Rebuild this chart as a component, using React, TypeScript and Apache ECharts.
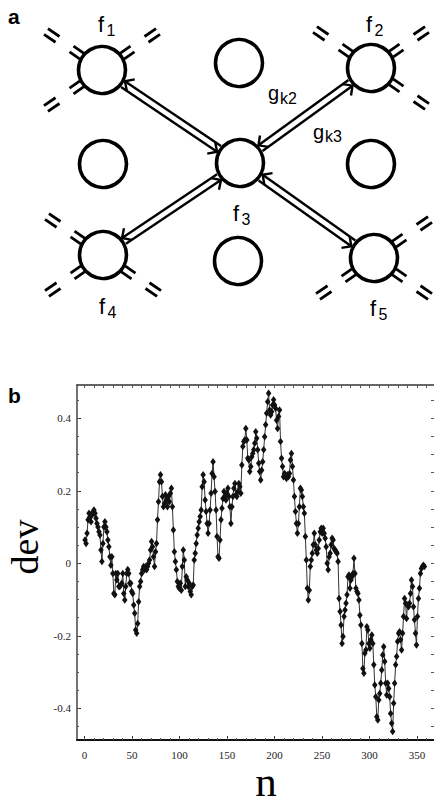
import React, { useEffect, useRef } from "react";
import * as echarts from "echarts";

// ---------- data (panel b) ----------
// dev values, one per sample, sample n = N_START + i * N_STEP
const devA = [
  0.064, 0.055, 0.083, 0.12, 0.138, 0.129, 0.115, 0.133, 0.142, 0.147, 0.138, 0.124, 0.11, 0.1, 0.087,
  0.078, 0.037, 0.005, 0.055, 0.1, 0.115, 0.1, 0.087, 0.064, 0.046, 0.018, -0.005, 0.018, -0.028, -0.083,
  -0.087, -0.028, -0.046, -0.028, -0.064, -0.064, -0.06, -0.055, -0.028, -0.083, -0.101, -0.064, -0.028,
  -0.017, -0.028, -0.055, -0.055, -0.078, -0.083, -0.115, -0.138, -0.184, -0.193, -0.166, -0.106, -0.064,
  -0.05, -0.028, -0.018, -0.009, -0.018, -0.009, -0.018, -0.009, 0, 0.009, 0.037, 0.06, 0.046, 0.018,
  -0.009, 0.032, 0.055,
];
const devB = [
  0.12, 0.17, 0.225, 0.244, 0.225, 0.184, 0.156, 0.165, 0.189, 0.175, 0.156, 0.184, 0.17, 0.193, 0.207,
  0.156, 0.092, 0.032, 0.005, -0.018, -0.05, -0.064, -0.069, -0.055, -0.074, -0.009, 0.037, 0.009, -0.064,
  -0.037, -0.046, -0.064, -0.055, -0.078, -0.087, -0.064, -0.06, 0.009, 0.028, 0.055, 0.078, 0.097, 0.115,
  0.129, 0.147, 0.211, 0.244, 0.225, 0.175, 0.143, 0.11, 0.083, 0.11, 0.147, 0.193, 0.248, 0.28, 0.239,
  0.198, 0.147, 0.074, 0.018, 0.014, 0.064, 0.12, 0.152, 0.179, 0.198, 0.184, 0.175, 0.193, 0.207, 0.184,
  0.156, 0.11, 0.156, 0.184, 0.207, 0.22, 0.189, 0.184, 0.198, 0.22, 0.211, 0.193,
];
const devC = [
  0.271, 0.322, 0.336, 0.34, 0.372, 0.34, 0.29, 0.285, 0.253, 0.267, 0.294, 0.303, 0.313, 0.331, 0.363,
  0.345, 0.313, 0.276, 0.253, 0.23, 0.257, 0.28, 0.313, 0.349, 0.382, 0.414, 0.446, 0.469, 0.423, 0.409,
  0.418, 0.437, 0.451, 0.437, 0.428, 0.395, 0.372, 0.405, 0.423, 0.336, 0.29, 0.267, 0.239, 0.248, 0.244,
  0.234, 0.244, 0.239, 0.248, 0.285, 0.303, 0.267, 0.23, 0.184, 0.143, 0.11, 0.083, 0.11, 0.156, 0.207,
  0.202, 0.184, 0.156, 0.138, 0.074, 0.009, -0.069, -0.101, -0.074, -0.009, 0.009, 0.028, 0.051, 0.083,
  0.051, 0.037, 0.028, 0.041, 0.064, 0.087, 0.097, 0.083, 0.097, 0.083, 0.069, 0.046, 0, -0.018, 0.018,
  0.028, 0.051, 0.069, 0.064, 0.041, 0.037, 0.032, 0.028, 0.005,
];
const devD = [
  -0.097, -0.133, -0.17, -0.221, -0.202, -0.147, -0.129, -0.11, -0.087, -0.037, -0.032, -0.069, -0.046,
  -0.037, -0.028, 0.014, -0.028, -0.069, -0.078, -0.083, -0.101, -0.143, -0.17, -0.221, -0.29, -0.303,
  -0.248, -0.239, -0.175, -0.184, -0.221, -0.234, -0.211, -0.198, -0.221, -0.28, -0.336, -0.368, -0.423,
  -0.432, -0.377, -0.359, -0.331, -0.294, -0.253, -0.23, -0.271, -0.331, -0.363, -0.331, -0.345, -0.368,
  -0.414, -0.441, -0.464, -0.386, -0.331, -0.28, -0.257, -0.216, -0.193, -0.189, -0.211, -0.239, -0.193,
  -0.147, -0.097, -0.11, -0.152, -0.115, -0.12, -0.11, -0.083, -0.046, -0.064, -0.12, -0.156, -0.193,
  -0.225, -0.147, -0.097, -0.069, -0.028, -0.014, -0.009, -0.005, -0.009,
];
const N_START = 0.5;
const N_STEP = 1.045;

const X_TICKS = [0, 50, 100, 150, 200, 250, 300, 350];
const X_MINOR = [0, 10, 20, 30, 40, 50, 60, 70, 80, 90, 100, 110, 120, 130, 140, 150, 160, 170, 180, 190,
  200, 210, 220, 230, 240, 250, 260, 270, 280, 290, 300, 310, 320, 330, 340, 350, 360];
const Y_TICKS = [-0.4, -0.2, 0, 0.2, 0.4];
const Y_MINOR = [-0.45, -0.4, -0.35, -0.3, -0.25, -0.2, -0.15, -0.1, -0.05, 0, 0.05, 0.1, 0.15, 0.2, 0.25,
  0.3, 0.35, 0.4, 0.45];
const X_NAME = "n";
const Y_NAME = "dev";

// ---------- panel a (diagram) ----------
const NODE_NAMES = ["f1", "top", "f2", "left", "f3", "right", "f4", "bottom", "f5"];
const LINKS: [string, string][] = [
  ["f3", "f1"], ["f1", "f3"],
  ["f3", "f2"], ["f2", "f3"],
  ["f3", "f4"], ["f4", "f3"],
  ["f3", "f5"], ["f5", "f3"],
];
const OPEN_ENDS: Record<string, [number, number][]> = {
  f1: [[-1, -1], [1, -1], [-1, 1]],
  f2: [[-1, -1], [1, -1], [1, 1]],
  f4: [[-1, -1], [-1, 1], [1, 1]],
  f5: [[1, -1], [-1, 1], [1, 1]],
};

// layout (pixels)
const NODE_POS: Record<string, [number, number]> = {
  f1: [102, 70], top: [239, 63], f2: [371, 68],
  left: [103, 164], f3: [240, 163], right: [371, 164],
  f4: [103, 255], bottom: [238, 261], f5: [374, 258],
};
const LABELS = [
  { main: "f", sub: "1", x: 101, base: 32, sx: 111, sbase: 36, align: "center" },
  { main: "f", sub: "2", x: 369, base: 32, sx: 379, sbase: 36, align: "center" },
  { main: "f", sub: "3", x: 236, base: 221, sx: 246, sbase: 225, align: "center" },
  { main: "f", sub: "4", x: 102, base: 314, sx: 112, sbase: 318, align: "center" },
  { main: "f", sub: "5", x: 373, base: 316, sx: 383, sbase: 320, align: "center" },
  { main: "g", sub: "k2", x: 268, base: 100, sx: 280, sbase: 104, align: "left" },
  { main: "g", sub: "k3", x: 313, base: 139, sx: 325, sbase: 142, align: "left" },
];

const SANS = "'Liberation Sans', Arial, Helvetica, sans-serif";
const SERIF = "'Liberation Serif', 'Times New Roman', serif";
const R = 23.5;
const R_EDGE = 25.3;
const OFF = 3.5;
const DIAG: [number, number] = [0.824, 0.567];

function midY(base: number, fs: number, k = 0.3465) {
  return base - k * fs;
}

function buildDiagram() {
  const back: any[] = [];
  const front: any[] = [];
  const lineStyle = { stroke: "#000", lineWidth: 2.4, fill: "none", lineCap: "butt" };

  // arrows
  LINKS.forEach(([a, b]) => {
    const [x0, y0] = NODE_POS[a];
    const [x1, y1] = NODE_POS[b];
    const L = Math.hypot(x1 - x0, y1 - y0);
    const ux = (x1 - x0) / L, uy = (y1 - y0) / L;
    const px = -uy, py = ux;
    const sx = x0 + ux * R_EDGE + px * OFF, sy = y0 + uy * R_EDGE + py * OFF;
    const tx = x0 + ux * (L - R_EDGE) + px * OFF, ty = y0 + uy * (L - R_EDGE) + py * OFF;
    back.push({ type: "line", shape: { x1: sx, y1: sy, x2: tx, y2: ty }, style: lineStyle, z: 1 });
    const ang = Math.PI / 4, len = 10;
    const bx = -ux, by = -uy;
    const r1 = [bx * Math.cos(ang) - by * Math.sin(ang), bx * Math.sin(ang) + by * Math.cos(ang)];
    const r2 = [bx * Math.cos(-ang) - by * Math.sin(-ang), bx * Math.sin(-ang) + by * Math.cos(-ang)];
    front.push({
      type: "polyline",
      shape: { points: [[tx + r1[0] * len, ty + r1[1] * len], [tx, ty], [tx + r2[0] * len, ty + r2[1] * len]] },
      style: { stroke: "#000", lineWidth: 2.4, fill: null },
      z: 5,
    });
  });

  // open-ended double dashes
  Object.keys(OPEN_ENDS).forEach((name) => {
    const [cx, cy] = NODE_POS[name];
    OPEN_ENDS[name].forEach(([sx, sy]) => {
      const ux = sx * DIAG[0], uy = sy * DIAG[1];
      const px = -uy, py = ux;
      [[R_EDGE - 1, 37], [54, 68]].forEach(([a, b]) => {
        [-OFF, OFF].forEach((o) => {
          back.push({
            type: "line",
            shape: {
              x1: cx + ux * a + px * o, y1: cy + uy * a + py * o,
              x2: cx + ux * b + px * o, y2: cy + uy * b + py * o,
            },
            style: { stroke: "#000", lineWidth: 2.8 },
            z: 1,
          });
        });
      });
    });
  });

  // circles
  const circles = NODE_NAMES.map((n) => ({
    type: "circle",
    shape: { cx: NODE_POS[n][0], cy: NODE_POS[n][1], r: R },
    style: { fill: "#fff", stroke: "#000", lineWidth: 3.6 },
    z: 3,
  }));

  // labels
  const texts: any[] = [];
  LABELS.forEach((l) => {
    const mainFs = l.main === "f" ? 22 : 20;
    texts.push({
      type: "text", x: l.x, y: midY(l.base, mainFs), z: 6,
      style: {
        text: l.main, fontSize: mainFs, fontFamily: SANS, fill: "#000",
        align: l.align, textAlign: l.align, verticalAlign: "middle", textVerticalAlign: "middle",
      },
    });
    texts.push({
      type: "text", x: l.sx, y: midY(l.sbase, 16), z: 6,
      style: {
        text: l.sub, fontSize: 16, fontFamily: SANS, fill: "#000",
        align: l.align, textAlign: l.align, verticalAlign: "middle", textVerticalAlign: "middle",
      },
    });
  });

  const panelLabels = [
    {
      type: "text", x: 8, y: midY(24, 21), z: 6,
      style: { text: "a", fontSize: 21, fontWeight: "bold", fontFamily: SANS, fill: "#000",
        align: "left", textAlign: "left", verticalAlign: "middle", textVerticalAlign: "middle" },
    },
    {
      type: "text", x: 8, y: midY(403, 21), z: 6,
      style: { text: "b", fontSize: 21, fontWeight: "bold", fontFamily: SANS, fill: "#000",
        align: "left", textAlign: "left", verticalAlign: "middle", textVerticalAlign: "middle" },
    },
    {
      type: "text", x: 38 - 0.3375 * 38, y: 547, rotation: Math.PI / 2, z: 6,
      style: { text: Y_NAME, fontSize: 38, fontFamily: SERIF, fill: "#000",
        align: "center", textAlign: "center", verticalAlign: "middle", textVerticalAlign: "middle" },
    },
    {
      type: "text", x: 266, y: midY(796.5, 43, 0.3375), z: 6,
      style: { text: X_NAME, fontSize: 43, fontFamily: SERIF, fill: "#000",
        align: "center", textAlign: "center", verticalAlign: "middle", textVerticalAlign: "middle" },
    },
  ];

  return [...back, ...circles, ...front, ...texts, ...panelLabels];
}

const X_MIN = -8, X_MAX = 368;
const Y_MIN = -0.4874, Y_MAX = 0.4919;

function buildOption() {
  const values = [...devA, ...devB, ...devC, ...devD];
  const data = values.map((v, i) => [N_START + i * N_STEP, v]);
  const labelFont = { fontFamily: SERIF, fontSize: 11, color: "#222" };
  const baseX = { type: "value", min: X_MIN, max: X_MAX, gridIndex: 0, splitLine: { show: false } };
  const baseY = { type: "value", min: Y_MIN, max: Y_MAX, gridIndex: 0, splitLine: { show: false } };
  return {
    animation: false,
    backgroundColor: "#fff",
    grid: { left: 77, top: 385, width: 358, height: 355, containLabel: false },
    xAxis: [
      {
        ...baseX, position: "bottom",
        axisLine: { show: true, onZero: false, lineStyle: { color: "#111", width: 2 } },
        axisTick: { show: true, inside: true, length: 4, customValues: X_TICKS, lineStyle: { color: "#333", width: 1 } },
        axisLabel: { show: true, customValues: X_TICKS, margin: 9, ...labelFont },
      },
      {
        ...baseX, position: "bottom",
        axisLine: { show: false, onZero: false },
        axisTick: { show: true, inside: true, length: 2, customValues: X_MINOR, lineStyle: { color: "#555", width: 1 } },
        axisLabel: { show: false },
      },
      {
        ...baseX, position: "top",
        axisLine: { show: true, onZero: false, lineStyle: { color: "#333", width: 1.6 } },
        axisTick: { show: true, inside: true, length: 3, customValues: X_MINOR, lineStyle: { color: "#555", width: 1 } },
        axisLabel: { show: false },
      },
    ],
    yAxis: [
      {
        ...baseY, position: "left",
        axisLine: { show: true, onZero: false, lineStyle: { color: "#444", width: 1.5 } },
        axisTick: { show: true, inside: true, length: 4, customValues: Y_TICKS, lineStyle: { color: "#333", width: 1 } },
        axisLabel: { show: true, customValues: Y_TICKS, margin: 6, ...labelFont },
      },
      {
        ...baseY, position: "left",
        axisLine: { show: false, onZero: false },
        axisTick: { show: true, inside: true, length: 2, customValues: Y_MINOR, lineStyle: { color: "#555", width: 1 } },
        axisLabel: { show: false },
      },
      {
        ...baseY, position: "right",
        axisLine: { show: false, onZero: false },
        axisTick: { show: true, inside: true, length: 3, customValues: Y_MINOR, lineStyle: { color: "#555", width: 1 } },
        axisLabel: { show: false },
      },
    ],
    series: [
      {
        type: "line",
        xAxisIndex: 0,
        yAxisIndex: 0,
        data,
        symbol: "diamond",
        symbolSize: [5.5, 7.5],
        showSymbol: true,
        lineStyle: { color: "#333", width: 1 },
        itemStyle: { color: "#111" },
        emphasis: { disabled: true },
        z: 2,
      },
    ],
    graphic: { elements: buildDiagram() },
  };
}

export default function App() {
  const ref = useRef<HTMLDivElement>(null);
  useEffect(() => {
    if (!ref.current) return;
    const chart = echarts.init(ref.current, null, { renderer: "svg" });
    chart.setOption(buildOption() as any);
    return () => chart.dispose();
  }, []);
  return (
    <div
      ref={ref}
      style={{ position: "absolute", left: 0, top: 0, width: 434, height: 799, background: "#fff" }}
    />
  );
}
